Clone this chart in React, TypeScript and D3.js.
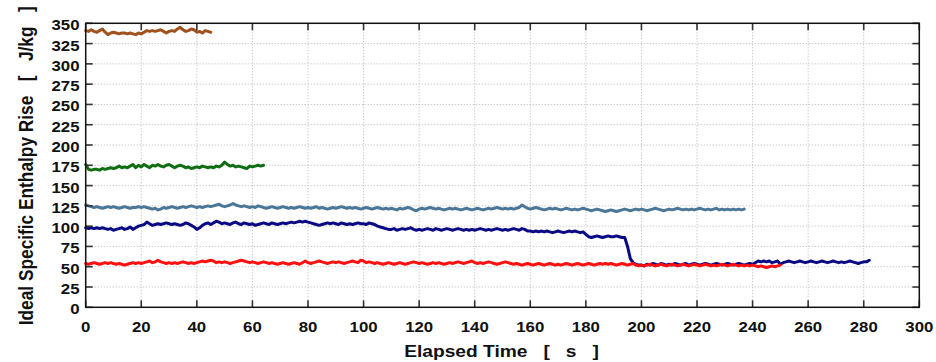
import React from "react";
import * as d3 from "d3";

const xTicks = [0, 20, 40, 60, 80, 100, 120, 140, 160, 180, 200, 220, 240, 260, 280, 300];
const yTicks = [0, 25, 50, 75, 100, 125, 150, 175, 200, 225, 250, 275, 300, 325, 350];

// one sample per second, starting at t = 0
const brownSeries = [
  341, 340, 342, 340, 339, 341, 343, 339, 336, 338,
  339, 338, 337, 338, 338, 337, 338, 337, 336, 338,
  337, 339, 341, 340, 341, 340, 341, 342, 340, 338,
  340, 341, 340, 343, 345, 342, 340, 341, 343, 342,
  339, 340, 338, 341, 340, 339,
];

const greenSeries = [
  176, 170, 169, 170, 170, 169, 171, 170, 171, 172,
  171, 172, 174, 172, 173, 172, 174, 176, 172, 175,
  173, 176, 174, 172, 175, 174, 176, 174, 173, 175,
  176, 174, 172, 174, 175, 174, 172, 173, 171, 172,
  173, 172, 174, 173, 172, 173, 172, 174, 173, 175,
  179, 176, 174, 175, 173, 174, 173, 172, 171, 174,
  173, 174, 175, 174, 175,
];

const steelSeries = [
  126, 125, 124, 123, 124, 123, 122, 123, 124, 123,
  124, 123, 122, 123, 124, 123, 122, 123, 123, 124,
  123, 124, 123, 122, 121, 122, 120, 121, 123, 122,
  123, 124, 123, 122, 123, 124, 123, 124, 125, 124,
  123, 124, 123, 124, 125, 124, 125, 126, 127, 125,
  124, 125, 126, 128, 126, 125, 124, 125, 124, 123,
  124, 123, 125, 124, 123, 122, 123, 124, 123, 122,
  123, 124, 123, 122, 123, 122, 123, 124, 123, 122,
  123, 122, 123, 124, 122, 123, 122, 121, 122, 123,
  122, 123, 124, 123, 122, 123, 122, 123, 122, 121,
  122, 123, 122, 121, 122, 123, 122, 121, 122, 121,
  122, 121, 120, 122, 121, 122, 123, 122, 120, 119,
  121, 122, 121, 122, 123, 122, 121, 122, 121, 120,
  121, 122, 121, 122, 121, 120, 121, 122, 121, 120,
  121, 122, 121, 120, 121, 122, 121, 122, 123, 122,
  121, 122, 121, 122, 121, 122, 123, 126, 124, 122,
  121, 122, 123, 122, 121, 120, 121, 122, 121, 122,
  121, 120, 121, 122, 121, 120, 121, 120, 121, 122,
  121, 120, 119, 120, 121, 120, 119, 118, 119, 120,
  119, 118, 119, 120, 121, 120, 119, 120, 121, 120,
  121, 120, 119, 120, 121, 122, 121, 120, 119, 120,
  121, 120, 121, 122, 121, 120, 121, 120, 121, 120,
  121, 122, 121, 120, 121, 120, 121, 122, 120, 121,
  120, 121, 120, 121, 120, 121, 120, 121,
];

const navySeries = [
  98, 97, 98, 97, 98, 97, 98, 97, 96, 97,
  95, 96, 97, 98, 96, 97, 99, 96, 98, 100,
  101, 102, 105, 103, 101, 102, 103, 102, 103, 104,
  103, 102, 103, 102, 101, 102, 104, 103, 101, 99,
  96, 98, 101, 103, 104, 102, 104, 106, 105, 103,
  104, 103, 102, 104, 105, 103, 102, 104, 103, 102,
  103, 101, 102, 103, 104, 103, 102, 104, 103, 102,
  103, 104, 103, 104, 105, 104, 105, 106, 105, 106,
  105, 104, 103, 102, 101, 102, 103, 104, 103, 104,
  103, 102, 104, 103, 102, 103, 102, 103, 104, 103,
  103, 102, 104, 103, 102, 100, 99, 98, 97, 96,
  96, 97, 95, 96, 97, 96, 97, 98, 96, 95,
  96, 95, 96, 97, 96, 95, 97, 96, 95, 96,
  97, 96, 95, 96, 97, 96, 95, 96, 95, 96,
  95, 96, 97, 96, 95, 96, 95, 96, 97, 96,
  95, 96, 95, 96, 97, 96, 95, 97, 96, 94,
  94, 93, 94, 93, 94, 93, 94, 93, 92, 93,
  94, 93, 92, 93, 94, 93, 94, 93, 92, 93,
  90, 87, 86, 87, 88, 87, 86, 87, 88, 87,
  87, 88, 87, 86, 86, 75, 60, 55, 53, 52,
  52, 51, 53, 52, 54, 53, 52, 54, 53, 52,
  53, 52, 54, 53, 52, 53, 54, 52, 53, 54,
  53, 52, 53, 54, 53, 52, 53, 54, 53, 52,
  53, 54, 53, 52, 53, 54, 53, 52, 53, 54,
  53, 55, 57, 56, 57, 56, 57, 55, 56, 57,
  53, 55, 56, 57, 56, 55, 56, 57, 56, 55,
  56, 57, 56, 55, 56, 57, 56, 55, 56, 57,
  56, 55, 56, 55, 56, 57, 56, 55, 54, 55,
  56, 56, 58,
];

const redSeries = [
  54, 53, 54, 55, 54, 53, 54, 55, 54, 55,
  54, 53, 54, 53, 52, 53, 54, 55, 54, 55,
  54, 55, 56, 57, 55, 56, 58, 56, 55, 54,
  55, 54, 55, 54, 55, 56, 55, 54, 55, 54,
  55, 56, 57, 56, 57, 58, 57, 55, 56, 55,
  56, 55, 54, 55, 56, 57, 58, 57, 56, 55,
  56, 55, 54, 55, 56, 55, 54, 55, 54, 53,
  54, 55, 54, 53, 54, 55, 54, 53, 55, 57,
  55, 54, 55, 56, 57, 56, 55, 54, 55, 56,
  55, 56, 55, 54, 55, 56, 57, 56, 55, 58,
  57, 55, 56, 55, 54, 55, 54, 53, 54, 55,
  54, 53, 54, 55, 54, 53, 54, 55, 56, 55,
  54, 55, 54, 53, 54, 55, 54, 55, 54, 53,
  54, 55, 54, 55, 56, 55, 54, 55, 56, 57,
  55, 54, 55, 54, 55, 56, 55, 54, 53, 54,
  55, 56, 55, 54, 53, 54, 53, 52, 53, 54,
  53, 52, 53, 54, 53, 52, 53, 54, 53, 52,
  53, 52, 53, 54, 53, 52, 53, 54, 53, 52,
  53, 54, 53, 52, 53, 54, 53, 54, 53, 54,
  53, 52, 53, 54, 53, 52, 53, 54, 52, 51,
  52, 51, 52, 53, 52, 51, 52, 53, 52, 51,
  52, 53, 52, 51, 52, 53, 52, 51, 52, 53,
  52, 51, 52, 53, 52, 51, 52, 51, 52, 53,
  52, 51, 52, 53, 52, 51, 52, 51, 52, 51,
  52, 51, 50, 51, 50, 49, 50, 51, 50, 51,
  52,
];

const seriesList = [
  { name: "brown", values: brownSeries, color: "#a0521e" },
  { name: "green", values: greenSeries, color: "#0f6e12" },
  { name: "steel", values: steelSeries, color: "#4a7698" },
  { name: "navy", values: navySeries, color: "#0a0a85" },
  { name: "red", values: redSeries, color: "#ff1010" },
];

const W = 936;
const H = 362;
const L = 85.7;
const R = 919.3;
const T = 23.3;
const B = 307.3;
const SX = 1.2; // horizontal stretch of the lettering
const FONT = "'Liberation Sans', Arial, Helvetica, sans-serif";

export default function App() {
  const x = d3.scaleLinear().domain([0, 300]).range([L, R]);
  const y = d3.scaleLinear().domain([0, 350]).range([B, T]);
  const line = d3
    .line<number>()
    .x((_, i) => x(i))
    .y((v) => y(v));

  const tickLen = 7;

  return (
    <svg
      width={W}
      height={H}
      style={{ position: "absolute", left: 0, top: 0, background: "#fff" }}
      fontFamily={FONT}
      fontWeight="bold"
    >
      <rect x={0} y={0} width={W} height={H} fill="#fff" />
      {/* grid */}
      <g stroke="#b4b4b4" strokeWidth={1} strokeDasharray="1,2">
        {xTicks.map((t) => (
          <line key={"gx" + t} x1={x(t)} x2={x(t)} y1={T} y2={B} />
        ))}
        {yTicks.map((t) => (
          <line key={"gy" + t} x1={L} x2={R} y1={y(t)} y2={y(t)} />
        ))}
      </g>
      {/* series */}
      <g fill="none" strokeWidth={3} strokeLinejoin="round" strokeLinecap="round">
        {seriesList.map((s) => (
          <path key={s.name} d={line(s.values) || ""} stroke={s.color} />
        ))}
      </g>
      {/* ticks */}
      <g stroke="#333" strokeWidth={1.6}>
        {xTicks.map((t) => (
          <g key={"tx" + t}>
            <line x1={x(t)} x2={x(t)} y1={B} y2={B - tickLen} />
            <line x1={x(t)} x2={x(t)} y1={T} y2={T + tickLen} />
          </g>
        ))}
        {yTicks.map((t) => (
          <g key={"ty" + t}>
            <line x1={L} x2={L + tickLen} y1={y(t)} y2={y(t)} />
            <line x1={R} x2={R - tickLen} y1={y(t)} y2={y(t)} />
          </g>
        ))}
      </g>
      {/* frame */}
      <rect x={L} y={T} width={R - L} height={B - T} fill="none" stroke="#111" strokeWidth={1.5} />
      {/* tick labels */}
      <g fontSize={14} fill="#111">
        {xTicks.map((t) => (
          <text key={"lx" + t} transform={`translate(${x(t)},331.7) scale(${SX},1)`} textAnchor="middle">
            {t}
          </text>
        ))}
        {yTicks.map((t) => (
          <text key={"ly" + t} transform={`translate(79.5,${y(t) + 7}) scale(${SX},1)`} textAnchor="end">
            {t}
          </text>
        ))}
      </g>
      {/* axis titles */}
      <text
        transform={`translate(501.5,356.7) scale(${SX},1)`}
        textAnchor="middle"
        fontSize={16}
        fill="#111"
        style={{ whiteSpace: "pre" }}
      >
        {"Elapsed Time   [   s   ]"}
      </text>
      <text
        transform={`translate(33.3,${(T + B) / 2 + 0.5}) scale(${SX},1) rotate(-90)`}
        textAnchor="middle"
        fontSize={17.3}
        fill="#111"
        style={{ whiteSpace: "pre" }}
      >
        {"Ideal Specific Enthalpy Rise   [   J/kg   ]"}
      </text>
    </svg>
  );
}
